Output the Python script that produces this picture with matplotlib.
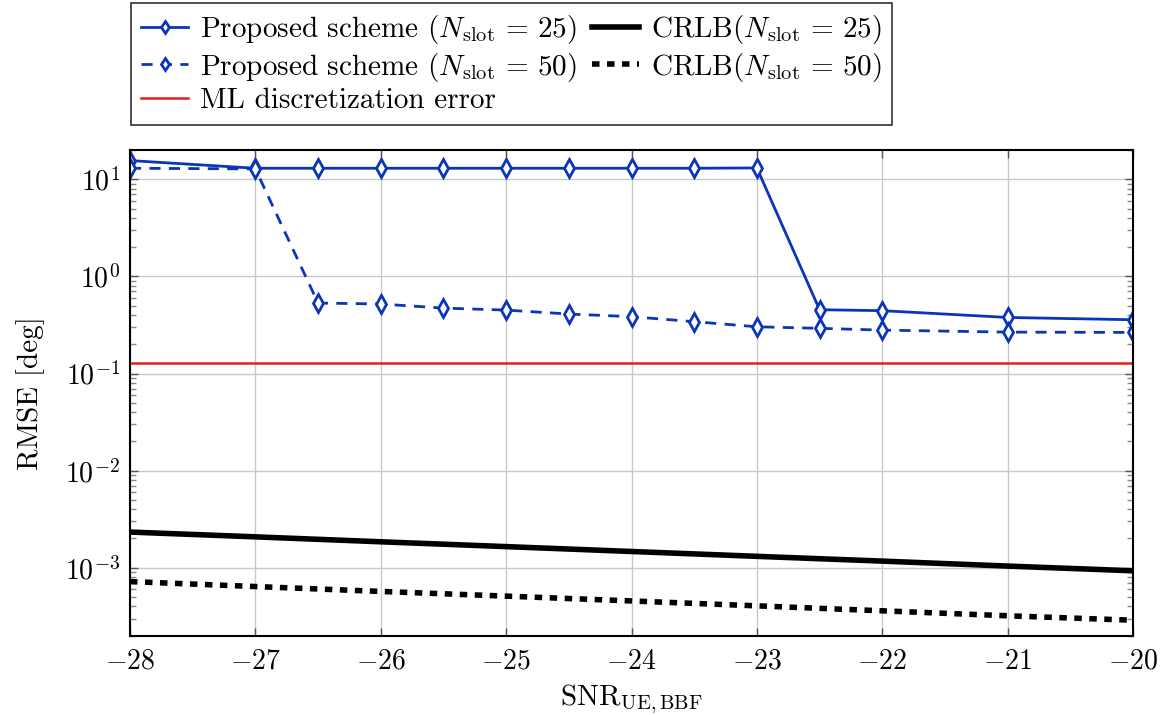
import matplotlib
matplotlib.use("Agg")
import matplotlib.pyplot as plt
import numpy as np

plt.rcParams['font.family'] = 'serif'
plt.rcParams['font.serif'] = ['cmr10', 'DejaVu Serif']
plt.rcParams['mathtext.fontset'] = 'cm'
plt.rcParams['axes.formatter.use_mathtext'] = True
plt.rcParams['axes.unicode_minus'] = True

# Data
snr_prop = [-28, -27, -26.5, -26, -25.5, -25, -24.5, -24, -23.5, -23, -22.5, -22, -21, -20]
rmse_n25 = [15.6, 13.0, 13.0, 13.0, 13.0, 13.0, 13.0, 13.0, 13.0, 13.1, 0.454, 0.444, 0.378, 0.358]
rmse_n50 = [13.0, 12.8, 0.532, 0.52, 0.472, 0.45, 0.41, 0.385, 0.342, 0.303, 0.292, 0.28, 0.267, 0.265]

snr_crlb = [-28, -27, -26, -25, -24, -23, -22, -21, -20]
crlb_n25 = [2.33e-3, 2.08e-3, 1.85e-3, 1.65e-3, 1.47e-3, 1.31e-3, 1.17e-3, 1.04e-3, 9.3e-4]
crlb_n50 = [7.2e-4, 6.4e-4, 5.7e-4, 5.1e-4, 4.55e-4, 4.05e-4, 3.6e-4, 3.2e-4, 2.88e-4]

ml_error = 0.129
x_range = [-28, -20]

blue = '#0a35b8'
red = '#e0201b'

fig = plt.figure(figsize=(11.7, 7.15), dpi=100)
ax = fig.add_axes([130/1170, 1-635.7/715, (1133-130)/1170, (635.7-150)/715])

h1, = ax.plot(snr_prop, rmse_n25, '-', color=blue, lw=2, marker='d', ms=9, mfc='white', mec=blue, mew=2,
              label=r'Proposed scheme ($N_{\mathrm{slot}}\,=\,25$)')
h2, = ax.plot(snr_prop, rmse_n50, '--', color=blue, lw=2, dashes=(4, 3), marker='d', ms=9, mfc='white', mec=blue, mew=2,
              label=r'Proposed scheme ($N_{\mathrm{slot}}\,=\,50$)')
h3, = ax.plot(x_range, [ml_error, ml_error], '-', color=red, lw=1.8, label='ML discretization error')
h4, = ax.plot(snr_crlb, crlb_n25, '-', color='black', lw=4, label=r'CRLB($N_{\mathrm{slot}}\,=\,25$)')
h5, = ax.plot(snr_crlb, crlb_n50, color='black', lw=4, linestyle=(0, (1.35, 1.35)), label=r'CRLB($N_{\mathrm{slot}}\,=\,50$)')

ax.set_yscale('log')
ax.set_xlim(-28, -20)
ax.set_ylim(10**-3.70, 10**1.302)
ax.set_xticks(range(-28, -19))
ax.set_yticks([1e-3, 1e-2, 1e-1, 1e0, 1e1])
ax.grid(True, which='major', color='#c8c8c8', lw=1)
ax.tick_params(which='both', direction='in', top=True, right=True, labelsize=20)
ax.tick_params(which='major', length=6, width=1, color='#555555')
ax.tick_params(which='minor', length=4, width=1, color='#888888')
ax.tick_params(axis='x', pad=9)
ax.tick_params(axis='y', pad=7)
for s in ax.spines.values():
    s.set_linewidth(1.5)

ax.set_ylabel('RMSE [deg]', fontsize=21)
ax.yaxis.set_label_coords(-0.085, 0.5)
ax.set_xlabel(r'$\mathrm{SNR}_{\mathrm{UE,BBF}}$', fontsize=21)
ax.xaxis.set_label_coords(0.5, -0.096)

leg = fig.legend(handles=[h1, h2, h3, h4, h5], ncol=2, loc='upper left',
                 bbox_to_anchor=(131/1170, 1-3/715), fontsize=21, frameon=True, fancybox=False,
                 edgecolor='black', handlelength=1.6, columnspacing=0.55, handletextpad=0.4,
                 labelspacing=0.15, borderpad=0.35, markerscale=0.7, borderaxespad=0)
leg.get_frame().set_linewidth(1.2)

fig.savefig('out.png', dpi=100)
